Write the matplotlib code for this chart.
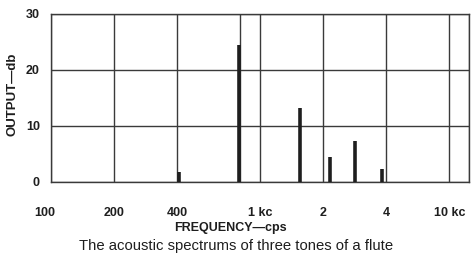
import matplotlib
matplotlib.use("Agg")
import matplotlib.pyplot as plt
import matplotlib.transforms as mtransforms

# ---- data ----
freqs = [410, 790, 1560, 2160, 2850, 3830]      # Hz
levels = [1.7, 24.4, 13.2, 4.4, 7.3, 2.2]        # dB
xtick_vals = [100, 200, 400, 1000, 2000, 4000, 10000]
xtick_labels = ["100", "200", "400", "1 kc", "2", "4", "10 kc"]
xgrid_extra = [800, 8000]
ytick_vals = [0, 10, 20, 30]

plt.rcParams['font.family'] = ['Liberation Sans', 'DejaVu Sans']
ink = "#1e1e1e"
gridc = "#3a3a3a"

fig = plt.figure(figsize=(4.71, 2.60), dpi=100)
ax = fig.add_axes([51/471, 1 - 181.5/260, (469 - 51)/471, (181.5 - 14)/260])

ax.set_xscale("log")
ax.set_xlim(100, 10000)
ax.set_ylim(0, 30)

ax.vlines(freqs, 0, levels, colors=ink, linewidth=2.6, zorder=3)

ax.set_xticks(xtick_vals)
ax.set_xticklabels(xtick_labels)
ax.set_xticks(xgrid_extra, minor=True)
ax.xaxis.set_minor_formatter(matplotlib.ticker.NullFormatter())
ax.set_yticks(ytick_vals)
ax.set_yticklabels([str(v) for v in ytick_vals])

ax.grid(True, which="both", color=gridc, linewidth=1.0)
ax.tick_params(which="both", length=0, colors=ink, labelsize=9)
ax.tick_params(axis="x", pad=18)
ax.tick_params(axis="y", pad=8)
for lab in ax.get_xticklabels() + ax.get_yticklabels():
    lab.set_fontweight("bold")

labs = ax.get_xticklabels()
labs[0].set_horizontalalignment("right")
labs[0].set_transform(labs[0].get_transform() +
                      mtransforms.ScaledTranslation(4/100, 0, fig.dpi_scale_trans))
labs[-1].set_horizontalalignment("right")
labs[-1].set_transform(labs[-1].get_transform() +
                       mtransforms.ScaledTranslation(-4/100, 0, fig.dpi_scale_trans))

for s in ax.spines.values():
    s.set_color(gridc)
    s.set_linewidth(1.0)

fig.text(13/471, 1 - 94/260, "OUTPUT\u2014db", rotation=90, ha="center", va="center",
         fontsize=9.5, fontweight="bold", color=ink)
fig.text(230/471, 1 - 228/260, "FREQUENCY\u2014cps", ha="center", va="center",
         fontsize=9, fontweight="bold", color=ink)
fig.text(236/471, 1 - 246/260, "The acoustic spectrums of three tones of a flute",
         ha="center", va="center", fontsize=10.7, color=ink)

fig.savefig("out.png", dpi=100)
